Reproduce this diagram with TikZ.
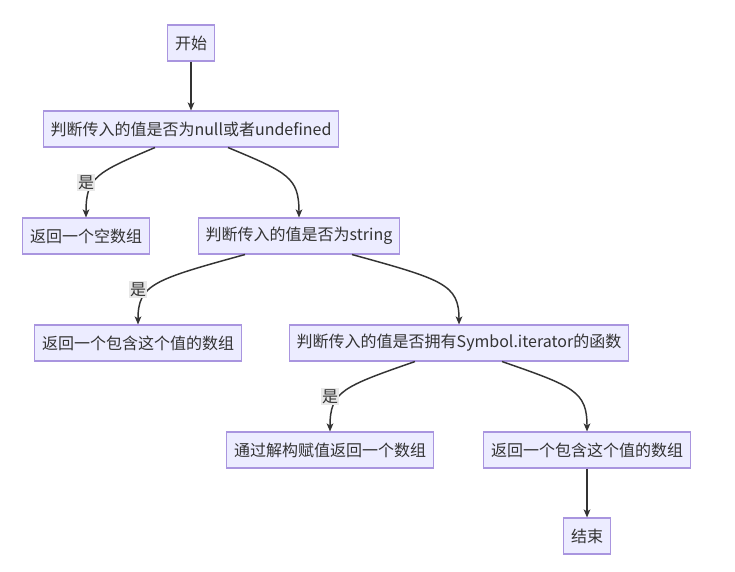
\documentclass[tikz,border=0pt]{standalone}
\usepackage{fontspec}
\setmainfont{Noto Sans CJK SC}
\usetikzlibrary{arrows.meta, calc}
\usepackage{xcolor}
\definecolor{mmfill}{HTML}{ECECFF}
\definecolor{mmline}{HTML}{A995DF}
\definecolor{mmedge}{HTML}{333333}
\definecolor{mmlabel}{HTML}{E8E8E8}

\begin{document}
\begin{tikzpicture}[
    x=0.75pt, y=-0.75pt,
    every node/.style={font=\fontsize{12pt}{14pt}\selectfont, text=mmedge},
    box/.style={draw=mmline, fill=mmfill, line width=0.8pt, minimum height=27pt, inner xsep=5.5pt, inner ysep=0pt},
    lbl/.style={fill=mmlabel, inner sep=1pt},
    flow/.style={draw=mmedge, line width=1.1pt, -{Stealth[length=6pt, width=5pt, inset=1.5pt]}},
]
\path[fill=white, use as bounding box] (0,0) rectangle (735,571);

\node[box] (start) at (191,43) {开始};
\node[box] (isnull) at (191,129) {判断传入的值是否为null或者undefined};
\node[box] (emptyarr) at (86,236) {返回一个空数组};
\node[box] (isstring) at (299,236) {判断传入的值是否为string};
\node[box] (wrapleft) at (138,343) {返回一个包含这个值的数组};
\node[box] (isiter) at (459,343) {判断传入的值是否拥有Symbol.iterator的函数};
\node[box] (spread) at (330,450) {通过解构赋值返回一个数组};
\node[box] (wrapright) at (587,450) {返回一个包含这个值的数组};
\node[box] (stop) at (587,536) {结束};

\draw[flow] (start.south) -- (isnull.north);
\draw[flow] ($(isnull.south)+(-36,0)$) .. controls +(-59,25) and +(0,-40) .. (emptyarr.north);
\draw[flow] ($(isnull.south)+(37,0)$) .. controls +(60,25) and +(0,-40) .. (isstring.north);
\draw[flow] ($(isstring.south)+(-54,0)$) .. controls +(-91,25) and +(0,-40) .. (wrapleft.north);
\draw[flow] ($(isstring.south)+(53,0)$) .. controls +(91,25) and +(0,-40) .. (isiter.north);
\draw[flow] ($(isiter.south)+(-44,0)$) .. controls +(-72,25) and +(0,-40) .. (spread.north);
\draw[flow] ($(isiter.south)+(43,0)$) .. controls +(72,25) and +(0,-40) .. (wrapright.north);
\draw[flow] (wrapright.south) -- (stop.north);

\path (emptyarr.north) ++(0,-35) node[lbl] {是};
\path (wrapleft.north) ++(0,-35) node[lbl] {是};
\path (spread.north) ++(0,-35) node[lbl] {是};

\end{tikzpicture}
\end{document}
